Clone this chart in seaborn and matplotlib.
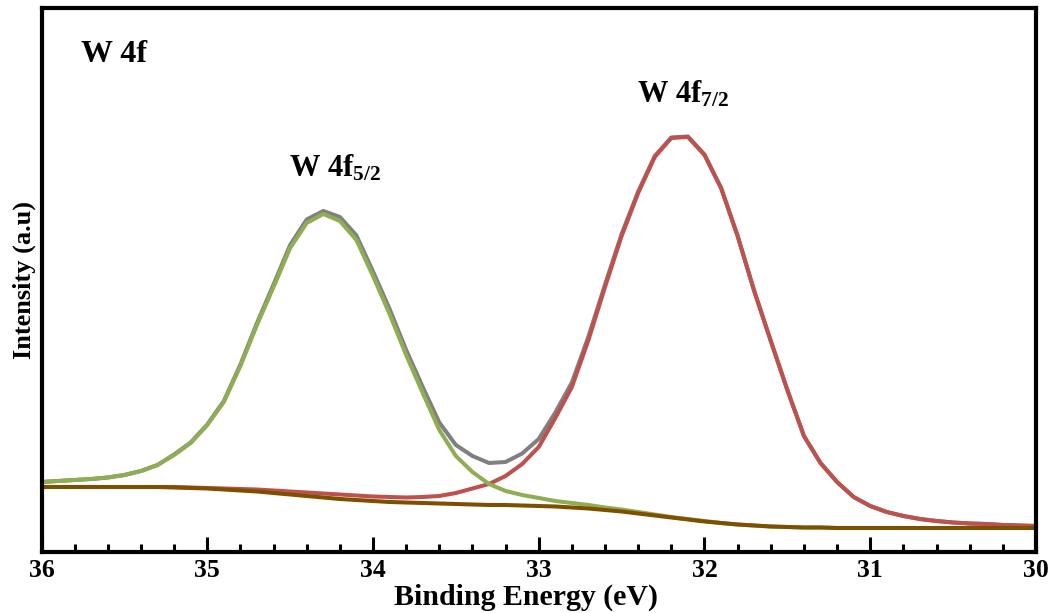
import numpy as np
import pandas as pd
import matplotlib
matplotlib.use("Agg")
import matplotlib.pyplot as plt
from matplotlib.ticker import MultipleLocator
import seaborn as sns

# Binding energy grid (eV), 0.1 eV steps from 36.0 down to 30.0
energy = [36.0, 35.9, 35.8, 35.7, 35.6, 35.5, 35.4, 35.3, 35.2, 35.1,
          35.0, 34.9, 34.8, 34.7, 34.6, 34.5, 34.4, 34.3, 34.2, 34.1,
          34.0, 33.9, 33.8, 33.7, 33.6, 33.5, 33.4, 33.3, 33.2, 33.1,
          33.0, 32.9, 32.8, 32.7, 32.6, 32.5, 32.4, 32.3, 32.2, 32.1,
          32.0, 31.9, 31.8, 31.7, 31.6, 31.5, 31.4, 31.3, 31.2, 31.1,
          31.0, 30.9, 30.8, 30.7, 30.6, 30.5, 30.4, 30.3, 30.2, 30.1,
          30.0]

# Shirley-type background
background = [64, 64, 64, 64, 64, 64, 64, 64, 63.5, 63,
              62.5, 61.5, 60.5, 59.5, 58, 56.5, 55, 53.5, 52, 51,
              50, 49, 48.5, 48, 47.5, 47, 46.5, 46, 46, 45.5,
              45, 44.5, 43.5, 42.5, 41, 39.5, 37.5, 35.5, 33.5, 31.5,
              29.5, 28, 26.5, 25.5, 24.5, 24, 23.5, 23.5, 23, 23,
              23, 23, 23, 23, 23, 23, 23, 23, 23, 23,
              23]

# W 4f5/2 component (on background)
w4f52 = [69, 70, 71, 72, 73.5, 76, 80, 86, 96, 108,
         126, 149, 185, 226, 264, 303, 328, 337, 330, 311,
         275, 237, 196, 158, 121, 95, 79, 67, 60, 56,
         53, 50, 48, 46, 43.5, 41.5, 39, 36.5, 34, 32,
         30, 28, 26.5, 25.5, 24.5, 24, 23.5, 23.5, 23, 23,
         23, 23, 23, 23, 23, 23, 23, 23, 23, 23,
         23]

# W 4f7/2 component (on background)
w4f72 = [64, 64, 64, 64, 64, 64, 64, 64, 64, 63.5,
         63, 62.5, 62, 61.5, 60.5, 59.5, 58.5, 57.5, 56.5, 55.5,
         54.5, 54, 53.5, 54, 55, 58, 62.5, 67, 75, 87,
         104, 133, 164, 211, 264, 315, 358, 394, 413, 414,
         396, 363, 315, 260, 210, 161, 115, 88, 69, 54,
         45, 39, 35, 32, 30, 28.5, 27.5, 27, 26, 25.5,
         25]

# Fitted envelope
envelope = [69, 70, 71, 72, 73.5, 76, 80, 86, 96.5, 108.5,
            126.5, 150, 186.5, 228, 266.5, 306, 331.5, 340, 334, 315.5,
            279.5, 242, 201, 164, 128.5, 106, 95, 88, 89, 97.5,
            112, 138.5, 168.5, 214.5, 266.5, 317, 359.5, 395, 413.5, 414.5,
            396.5, 363, 315, 260, 210, 161, 115, 88, 69, 54,
            45, 39, 35, 32, 30, 28.5, 27.5, 27, 26, 25.5,
            25]

df = pd.DataFrame({"energy": energy, "background": background,
                   "w4f52": w4f52, "w4f72": w4f72, "envelope": envelope})

sns.set_style("white")
plt.rcParams["font.family"] = ["Liberation Serif", "DejaVu Serif"]
plt.rcParams["font.weight"] = "bold"
plt.rcParams["text.color"] = "black"
plt.rcParams["axes.labelcolor"] = "black"
plt.rcParams["xtick.color"] = "black"
plt.rcParams["mathtext.fontset"] = "custom"
plt.rcParams["mathtext.rm"] = "Liberation Serif:bold"
plt.rcParams["mathtext.bf"] = "Liberation Serif:bold"
plt.rcParams["mathtext.it"] = "Liberation Serif:bold"

fig = plt.figure(figsize=(10.51, 6.13), dpi=100)
ax = fig.add_axes([0.0395, 0.0987, 0.9462, 0.8883])

lw = 2.9
sns.lineplot(data=df, x="energy", y="envelope", color="#808080", lw=lw, ax=ax, sort=False)
sns.lineplot(data=df, x="energy", y="w4f72", color="#BE514E", lw=lw, ax=ax, sort=False)
sns.lineplot(data=df, x="energy", y="w4f52", color="#8FAD52", lw=lw, ax=ax, sort=False)
sns.lineplot(data=df, x="energy", y="background", color="#7F4F00", lw=lw, ax=ax, sort=False)

ax.set_xlim(36, 30)
ax.set_ylim(-1.5, 543)
ax.set_yticks([])
ax.xaxis.set_major_locator(MultipleLocator(1))
ax.xaxis.set_minor_locator(MultipleLocator(0.2))
ax.tick_params(axis="x", which="major", direction="in", length=11, width=2.2,
               labelsize=18.5, pad=5, bottom=True, top=False, color="black",
               labelcolor="black")
ax.tick_params(axis="x", which="minor", direction="in", length=6, width=2.2,
               bottom=True, top=False, color="black")
for lab in ax.get_xticklabels():
    lab.set_fontweight("bold")

for sp in ax.spines.values():
    sp.set_visible(True)
    sp.set_color("black")
    sp.set_linewidth(3)

ax.set_xlabel("Binding Energy (eV)", fontsize=21.5, fontweight="bold")
ax.xaxis.set_label_coords(0.487, -0.057)
ax.set_ylabel("Intensity (a.u)", fontsize=19, fontweight="bold", labelpad=4)

ax.text(35.76, 489, "W 4f", fontsize=23, fontweight="bold", ha="left", va="baseline")
ax.text(34.23, 374, r"W 4f$_{5/2}$", fontsize=22, fontweight="bold", ha="center", va="baseline")
ax.text(32.13, 448, r"W 4f$_{7/2}$", fontsize=22, fontweight="bold", ha="center", va="baseline")

fig.savefig("out.png", dpi=100)
